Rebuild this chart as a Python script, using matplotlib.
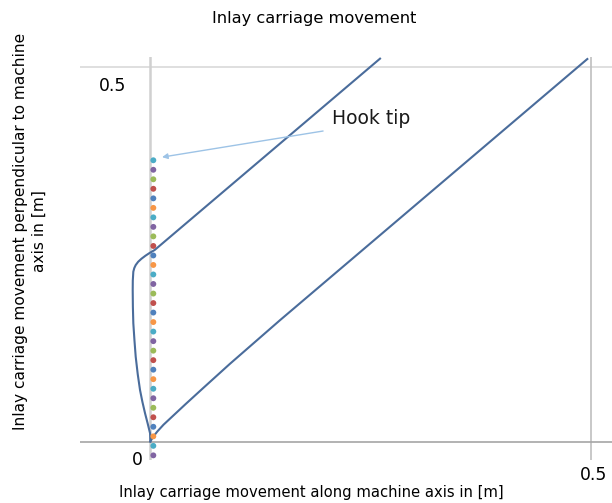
import numpy as np
import matplotlib
matplotlib.use('Agg')
import matplotlib.pyplot as plt

# hook tip positions (x stays almost constant, y steps upward)
hook_y = [-0.0185, -0.0058, 0.0069, 0.0197, 0.0324, 0.0451, 0.0578, 0.0705,
          0.0833, 0.0960, 0.1087, 0.1214, 0.1341, 0.1469, 0.1596, 0.1723,
          0.1850, 0.1977, 0.2105, 0.2232, 0.2359, 0.2486, 0.2613, 0.2741,
          0.2868, 0.2995, 0.3122, 0.3249, 0.3377, 0.3504, 0.3631, 0.3758]
hook_x = np.full(len(hook_y), 0.0034)

# carriage path, upper branch
upper_x = [0.0, -0.0003, -0.003, -0.006, -0.009, -0.0117, -0.0143, -0.0166,
           -0.018, -0.0193, -0.0198, -0.0200, -0.0199, -0.0193, -0.0182,
           -0.0166, -0.0138, -0.0100, -0.0055, -0.0010, 0.005, 0.02, 0.2606]
upper_y = [0.0, 0.011, 0.024, 0.0377, 0.053, 0.0688, 0.090, 0.1133,
           0.135, 0.158, 0.180, 0.2024, 0.215, 0.2269, 0.2318,
           0.2358, 0.2402, 0.2443, 0.2483, 0.2518, 0.256, 0.271, 0.5116]

# carriage path, lower branch
lower_x = [0.0, 0.003, 0.008, 0.015, 0.025, 0.04, 0.06, 0.09, 0.147, 0.4958]
lower_y = [0.0, 0.006, 0.0135, 0.0225, 0.0335, 0.050, 0.0715, 0.1035, 0.162, 0.5111]

palette = ['#8064A2', '#4BACC6', '#F79646', '#4F81BD', '#C0504D', '#9BBB59']
dot_colors = [palette[i % len(palette)] for i in range(len(hook_y))]

plt.rcParams['font.family'] = ['DejaVu Sans']

fig = plt.figure(figsize=(6.12, 5.03), dpi=100)
ax = fig.add_axes([80 / 612, 43 / 503, 532 / 612, 403 / 503])
ax.set_xlim(-0.0798, 0.5238)
ax.set_ylim(-0.0247, 0.5138)
for s in ax.spines.values():
  s.set_visible(False)
ax.set_xticks([])
ax.set_yticks([])

# grid / axis lines
ax.axhline(0.5, color='#d9d9d9', lw=1.2, zorder=0)
ax.axvline(0.5, color='#bfbfbf', lw=1.2, zorder=0)
ax.axvline(0.0, color='#d0d0d0', lw=1.8, zorder=0)
ax.axhline(0.0, color='#a6a6a6', lw=1.2, zorder=0)

ax.plot(upper_x, upper_y, color='#4A6C9B', lw=1.5, zorder=2,
        solid_joinstyle='round')
ax.plot(lower_x, lower_y, color='#4A6C9B', lw=1.5, zorder=2,
        solid_joinstyle='round')
ax.scatter(hook_x, hook_y, s=18, c=dot_colors, zorder=3, linewidths=0)

ax.annotate('', xy=(0.0133, 0.380), xytext=(0.196, 0.4149),
            arrowprops=dict(arrowstyle='-|>', color='#9DC3E6', lw=1.0,
                            mutation_scale=8, shrinkA=0, shrinkB=0))
ax.text(0.206, 0.431, 'Hook tip', fontsize=13.5, va='center', ha='left',
        color='#1a1a1a')

# tick labels placed like the spreadsheet layout
fig.text(112.7 / 612, 1 - 86 / 503, '0.5', fontsize=12.4, ha='center', va='center')
fig.text(137 / 612, 1 - 460 / 503, '0', fontsize=12.4, ha='center', va='center')
fig.text(594 / 612, 1 - 475 / 503, '0.5', fontsize=12.4, ha='center', va='center')

fig.text(314 / 612, 1 - 18 / 503, 'Inlay carriage movement', fontsize=11.7,
         ha='center', va='center')
fig.text(311 / 612, 1 - 492 / 503,
         'Inlay carriage movement along machine axis in [m]', fontsize=10.6,
         ha='center', va='center')
fig.text(30 / 612, 1 - 231 / 503,
         'Inlay carriage movement perpendicular to machine\naxis in [m]',
         fontsize=11.1, ha='center', va='center', rotation=90,
         multialignment='center', linespacing=1.3)

fig.savefig('out.png', dpi=100)
